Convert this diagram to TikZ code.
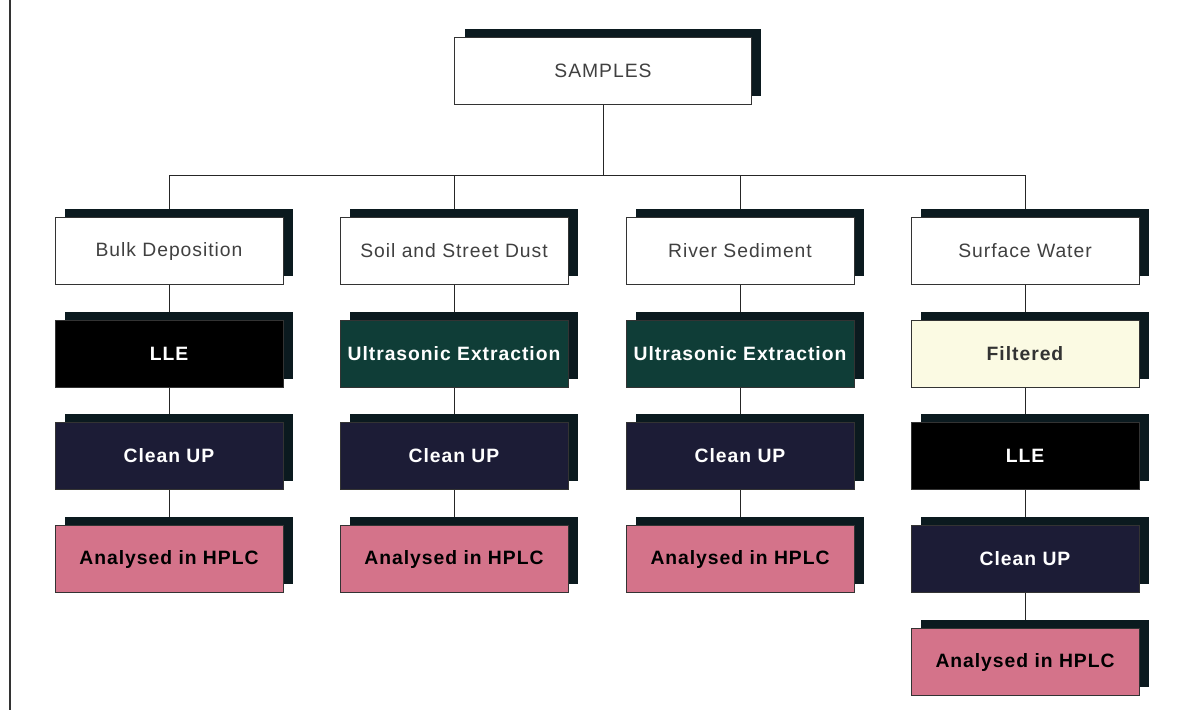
\documentclass[tikz,border=0pt]{standalone}
\usepackage{fontspec}
\setmainfont{Liberation Sans}
\newfontfamily\boxfont[LetterSpace=5]{Liberation Sans}
\usetikzlibrary{shadows,backgrounds}
\definecolor{shadowc}{HTML}{0B1A1F}
\definecolor{teal}{HTML}{0F3D37}
\definecolor{navy}{HTML}{1C1C36}
\definecolor{pinkc}{HTML}{D4738A}
\definecolor{creamc}{HTML}{FBFAE3}
\tikzset{
  box/.style={draw=black!80, thin, minimum width=4.56cm, minimum height=1.34cm,
    inner sep=0pt, font=\boxfont\fontsize{11}{13}\selectfont,
    drop shadow={shadow xshift=0.2cm, shadow yshift=0.17cm, fill=shadowc, opacity=1}},
  sample/.style={box, fill=white, text=black!75},
  lle/.style={box, fill=black, text=white, font=\boxfont\bfseries\fontsize{11}{13}\selectfont},
  ultra/.style={box, fill=teal, text=white!90, font=\boxfont\bfseries\fontsize{11}{13}\selectfont},
  clean/.style={box, fill=navy, text=white, font=\boxfont\bfseries\fontsize{11}{13}\selectfont},
  filt/.style={box, fill=creamc, text=black!80, font=\boxfont\bfseries\fontsize{11}{13}\selectfont},
  hplc/.style={box, fill=pinkc, text=black, font=\boxfont\bfseries\fontsize{11}{13}\selectfont},
  link/.style={draw=black!85, thin}
}
\begin{document}
\begin{tikzpicture}[x=0.02cm, y=-0.02cm]
\useasboundingbox (0,0) rectangle (1185,710);
\draw[black!80, line width=0.8pt] (10,0) -- (10,710);

\node[sample, minimum width=5.94cm] (samples) at (603,71) {SAMPLES};

\node[sample] (bulk)  at (169,251) {Bulk Deposition};
\node[sample] (soil)  at (454,251) {Soil and Street Dust};
\node[sample] (river) at (740,251) {River Sediment};
\node[sample] (water) at (1025,251) {Surface Water};

\node[lle]   (bulk-lle)    at (169,354) {LLE};
\node[clean] (bulk-clean)  at (169,456) {Clean UP};
\node[hplc]  (bulk-hplc)   at (169,559) {Analysed in HPLC};

\node[ultra] (soil-ext)    at (454,354) {Ultrasonic Extraction};
\node[clean] (soil-clean)  at (454,456) {Clean UP};
\node[hplc]  (soil-hplc)   at (454,559) {Analysed in HPLC};

\node[ultra] (river-ext)   at (740,354) {Ultrasonic Extraction};
\node[clean] (river-clean) at (740,456) {Clean UP};
\node[hplc]  (river-hplc)  at (740,559) {Analysed in HPLC};

\node[filt]  (water-filt)  at (1025,354) {Filtered};
\node[lle]   (water-lle)   at (1025,456) {LLE};
\node[clean] (water-clean) at (1025,559) {Clean UP};
\node[hplc]  (water-hplc)  at (1025,662) {Analysed in HPLC};

\coordinate (busL) at (169,175);
\coordinate (busR) at (1025,175);

\begin{scope}[on background layer]
  \draw[link] (busL) -- (busR);
  \draw[link] (samples.south) -- (samples.south |- busL);
  \foreach \n in {bulk,soil,river,water}
    \draw[link] (\n.north |- busL) -- (\n.north);
  \draw[link] (bulk) -- (bulk-lle) -- (bulk-clean) -- (bulk-hplc);
  \draw[link] (soil) -- (soil-ext) -- (soil-clean) -- (soil-hplc);
  \draw[link] (river) -- (river-ext) -- (river-clean) -- (river-hplc);
  \draw[link] (water) -- (water-filt) -- (water-lle) -- (water-clean) -- (water-hplc);
\end{scope}
\end{tikzpicture}
\end{document}
